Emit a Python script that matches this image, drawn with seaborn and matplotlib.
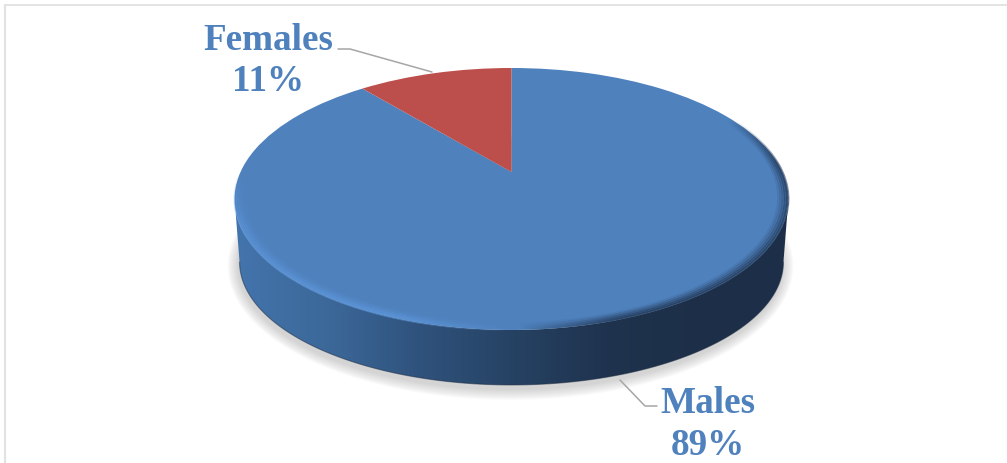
import numpy as np
import matplotlib
matplotlib.use("Agg")
import matplotlib.pyplot as plt
import seaborn as sns
from matplotlib.collections import LineCollection
from matplotlib.path import Path
from matplotlib.patches import PathPatch
from matplotlib.transforms import Transform

categories = ["Males", "Females"]
shares = [89, 11]
slice_colors = ["#4F81BD", "#BC4F4B"]
wall_colors = ["#4374AC", "#3C6899", "#2F527C", "#264263", "#1F334E", "#1D2F48"]

W, H = 1007, 463
CX, APEX_Y = 511.5, 172
TILT, K, A = 0.206, 271, -90

sns.set_theme(style="white")
plt.rcParams["font.family"] = ["Liberation Serif", "DejaVu Serif"]


class TiltedDisc(Transform):
    # projective map from the unit pie circle to picture pixels
    input_dims = output_dims = 2
    is_separable = False

    def transform_non_affine(self, xy):
        xy = np.asarray(xy, dtype=float)
        d = TILT * xy[:, 1] + 1
        return np.column_stack([CX + K * xy[:, 0] / d, (A * xy[:, 1] + APEX_Y) / d])


def rim(theta, r=1.0):
    return TiltedDisc().transform_non_affine(np.column_stack([r * np.cos(theta), r * np.sin(theta)]))


def lower(xy, grow=0.0, dx=0.0, dy=0.0):
    # bottom edge of the disc, a little narrower than the top
    out = np.empty_like(xy)
    out[:, 0] = CX + dx + (xy[:, 0] - CX) * (272 + grow) / 277
    out[:, 1] = 262 + dy + (xy[:, 1] - 199) * (123 + grow) / 131
    return out


fig = plt.figure(figsize=(W / 100, H / 100), dpi=100, facecolor="white")
ax = fig.add_axes([0, 0, 1, 1])
ax.set_xlim(0, W)
ax.set_ylim(H, 0)
ax.axis("off")

# frame, only top and left are visible in the crop
ax.plot([W, 5], [4.5, 4.5], color="#DCDCDC", lw=1.1, zorder=1)
ax.plot([5, 5], [4.5, H], color="#E2E2E2", lw=1.5, zorder=1)

theta = np.linspace(0, 2 * np.pi, 721)
top_edge = rim(theta)

# soft shadow under the disc
for grow in np.linspace(11, 1, 10):
    pts = lower(top_edge, grow=grow, dx=-1, dy=4)
    ax.fill(pts[:, 0], pts[:, 1], color="#808080", alpha=0.035, lw=0, zorder=2)

# side wall with a horizontal gradient, between the widest points of the disc
side = np.arcsin(TILT)
front = np.linspace(np.pi + side, 2 * np.pi - side, 361)
wall_low = lower(rim(front))
wall_top = rim(front[::-1])
wall_xy = np.vstack([wall_low, wall_top])
wall_path = Path(np.vstack([wall_xy, wall_xy[:1]]), closed=True)
wall_cmap = sns.blend_palette(wall_colors, n_colors=256, as_cmap=True)
img = ax.imshow(np.linspace(0, 1, 256)[None, :], cmap=wall_cmap, aspect="auto",
                extent=(236, 700, H, 0), zorder=3)
img.set_clip_path(PathPatch(wall_path, transform=ax.transData))
img2 = ax.imshow(np.ones((1, 2)), cmap=sns.blend_palette(["#1D2F48", "#1D2F48"], as_cmap=True),
                 aspect="auto", extent=(700, 792, H, 0), zorder=3)
img2.set_clip_path(PathPatch(wall_path, transform=ax.transData))
ax.plot(wall_low[:, 0], wall_low[:, 1], color="#1A2A40", lw=0.8, alpha=0.5, zorder=4)

# top face
wedges, _ = ax.pie(shares, colors=slice_colors, startangle=90, counterclock=False,
                   radius=1, center=(0, 0), frame=False)
for w in wedges:
    w.set_transform(TiltedDisc() + ax.transData)
    w.set_zorder(5)
    w.set_linewidth(0)
ax.set_aspect("auto")
ax.set_xlim(0, W)
ax.set_ylim(H, 0)
ax.axis("off")

# bevel along the rim: light on the left, dark on the right
light = np.array(matplotlib.colors.to_rgb("#5E98DC"))
dark = np.array(matplotlib.colors.to_rgb("#1F334E"))
for r, strength in [(0.998, 0.6), (0.990, 0.5), (0.982, 0.35), (0.974, 0.2), (0.966, 0.1)]:
    pts = rim(theta, r)
    segs = np.stack([pts[:-1], pts[1:]], axis=1)
    t = np.cos(theta[:-1])
    s = np.sin(theta[:-1])
    hi = np.clip(-t / 0.35, 0, 1) * np.clip((0.0 - s) / 0.4, 0, 1)
    lo = np.clip((t - 0.02) / 0.3, 0, 1) * np.clip((0.45 - s) / 0.4, 0, 1)
    colors = np.zeros((len(segs), 4))
    colors[:, :3] = np.where((hi > 0)[:, None], light, dark)
    colors[:, 3] = strength * np.maximum(hi, lo)
    ax.add_collection(LineCollection(segs, colors=colors, linewidths=2.2, zorder=6))

# labels and leader lines
label_pos = {"Females": (268, 61), "Males": (708, 424.5)}
leaders = {"Females": ([338, 350, 432], [49, 49, 72]), "Males": ([657, 645, 620], [406, 406, 380])}
for cat, share in zip(categories, shares):
    x, y = label_pos[cat]
    ax.text(x, y, f"{cat}\n{share}%", color="#4F81BD", fontsize=26.7, fontweight="bold",
            ha="center", va="center", linespacing=1.24, zorder=8)
    ax.plot(leaders[cat][0], leaders[cat][1], color="#A6A6A6", lw=1.1, zorder=7)

fig.savefig("out.png", dpi=100, facecolor="white")
